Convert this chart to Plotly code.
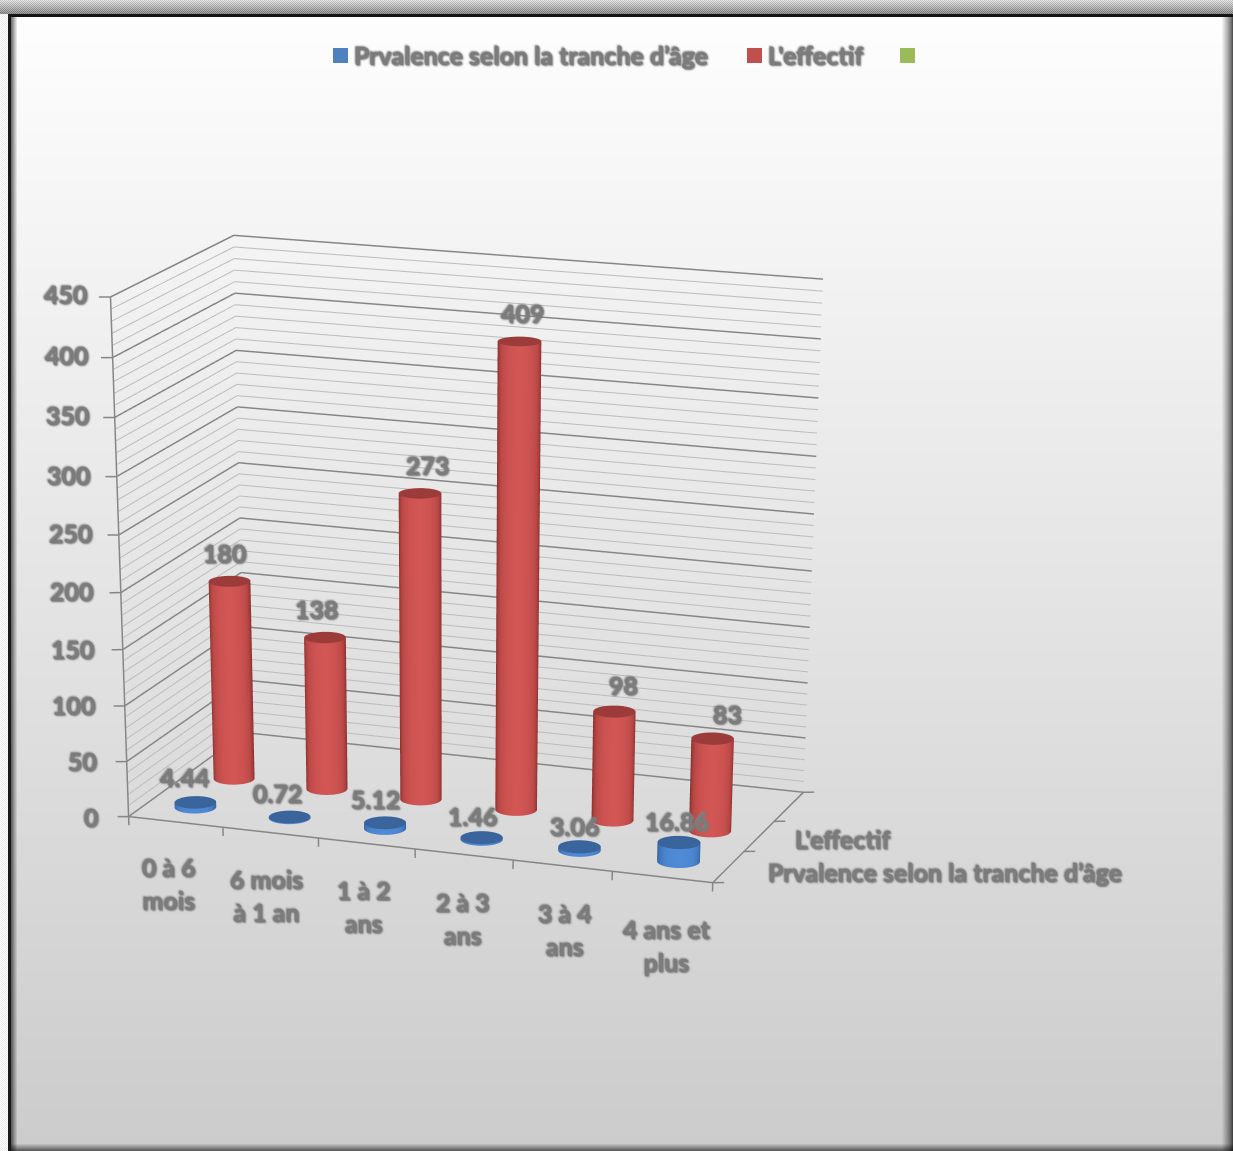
import base64, struct, zlib
import numpy as np
import plotly.graph_objects as go

categories = ["0 à 6<br>mois", "6 mois<br>à 1 an", "1 à 2<br>ans", "2 à 3<br>ans", "3 à 4<br>ans", "4 ans et<br>plus"]
series_names = ["Prvalence selon la tranche d’âge", "L'effectif"]
prevalence = [4.44, 0.72, 5.12, 1.46, 3.06, 16.86]
effectif = [180, 138, 273, 409, 98, 83]
z_ticks = list(range(0, 451, 50))
z_minor = list(range(0, 451, 10))
n_series = 3  # the third series is empty and only has a legend key

# Label nudges in pixels
prevalence_dx = [-11, -12, -10, -9, -5, -2]
prevalence_dy = [25, 24, 24, 22, 21, 21]
effectif_dx = [-5, -8, 8, 3, 9, 15]
effectif_dy = [28, 29, 28, 28, 27, 25]
category_dx = [-7, -4, -3, -1, 2, 5]
category_dy = [-62, -63, -63, -64, -64, -69]

# Page and camera set-up
PAGE_W, PAGE_H = 1233, 1151
FIG_H = 4000
SCENE_W = 900
CAM_EYE = (2.6511, -7.3737, 1.9960)
CAM_CENTER = (0.2430, -0.7565, -2.2304)
ASPECT = (1.0, 0.5048, 0.8182)
X_RANGE = (-1, 7)
Y_RANGE = (-1, 4)
Z_RANGE = (-50, 500)


def png_uri(rgb):
    h, w = rgb.shape[:2]
    raw = b"".join(b"\x00" + rgb[i].tobytes() for i in range(h))

    def chunk(tag, body):
        return struct.pack(">I", len(body)) + tag + body + struct.pack(">I", zlib.crc32(tag + body) & 0xffffffff)

    png = (b"\x89PNG\r\n\x1a\n" + chunk(b"IHDR", struct.pack(">IIBBBBB", w, h, 8, 2, 0, 0, 0))
           + chunk(b"IDAT", zlib.compress(raw)) + chunk(b"IEND", b""))
    return "data:image/png;base64," + base64.b64encode(png).decode()


def panel_background():
    """Grey gradient panel with a bevelled edge and a dark outline."""
    yy, xx = np.mgrid[0:PAGE_H, 0:PAGE_W].astype(float)
    g = 254 - 50 * np.clip((yy - 20) / (PAGE_H - 20), 0, 1)
    left = np.clip((xx - 11) / 6, 0, 1)
    g = g * (0.45 + 0.55 * left)
    right = np.clip((PAGE_W - 1 - xx) / 11, 0, 1)
    g = g * (0.33 + 0.67 * right ** 0.8)
    bottom = np.clip((PAGE_H - 1 - yy) / 7, 0, 1)
    g = g * (0.45 + 0.55 * bottom)
    checker = ((xx.astype(int) + yy.astype(int)) % 2) * 2 - 1
    top = 215 - 6 * yy + 22 * checker
    g = np.where(yy < 14, top, g)
    outer = 244 + 10 * checker
    g = np.where((xx < 8) & (yy >= 14), outer, g)
    g = np.where((yy >= 14) & (yy < 17) & (xx >= 8), 20, g)
    g = np.where((xx >= 8) & (xx < 11) & (yy >= 14), 25, g)
    g = np.clip(g, 0, 255).astype(np.uint8)
    return np.dstack([g, g, g])


fig = go.Figure()


def add_segments(segments, color, width):
    xs, ys, zs = [], [], []
    for a, b in segments:
        xs += [a[0], b[0], None]
        ys += [a[1], b[1], None]
        zs += [a[2], b[2], None]
    fig.add_trace(go.Scatter3d(x=xs, y=ys, z=zs, mode="lines", line=dict(color=color, width=width),
                               showlegend=False, hoverinfo="skip"))


n_cat = len(categories)
minor, major = [], []
for v in z_minor:
    walls = [((0, 0, v), (0, n_series, v)), ((0, n_series, v), (n_cat, n_series, v))]
    (major if v in z_ticks else minor).extend(walls)
add_segments(minor, "#bcbcbc", 2)
add_segments(major, "#868686", 3)

axis_lines = [((0, 0, 0), (0, 0, z_ticks[-1])), ((0, 0, 0), (n_cat, 0, 0)), ((n_cat, 0, 0), (n_cat, n_series, 0))]
axis_lines += [((0, 0, v), (-0.1, -0.04, v)) for v in z_ticks]
axis_lines += [((i, 0, 0), (i, 0, -8)) for i in range(n_cat + 1)]
axis_lines += [((n_cat, j, 0), (n_cat + 0.1, j + 0.04, 0)) for j in range(n_series + 1)]
add_segments(axis_lines, "#868686", 3)

# Cylinders are circular in scene units, so the depth radius follows the aspect ratio
RX = 0.205
RY = RX * (ASPECT[0] / n_cat) / (ASPECT[1] / n_series)
theta = np.linspace(0, 2 * np.pi, 97)
view_dir = np.arctan2(CAM_EYE[1] - CAM_CENTER[1], CAM_EYE[0] - CAM_CENTER[0])
FLAT = dict(ambient=1, diffuse=0, specular=0, roughness=1, fresnel=0)


def add_cylinder(cat, ser, value, side_scale, cap_color):
    cx, cy = cat + 0.5, ser + 0.5
    ring_x = cx + RX * np.cos(theta)
    ring_y = cy + RY * np.sin(theta)
    shade = np.clip(np.cos(theta - view_dir), 0, 1)
    fig.add_trace(go.Surface(
        x=np.array([ring_x, ring_x]), y=np.array([ring_y, ring_y]),
        z=np.array([np.zeros_like(theta), np.full_like(theta, value)]),
        surfacecolor=np.array([shade, shade]), cmin=0, cmax=1, colorscale=side_scale,
        showscale=False, lighting=FLAT, hoverinfo="skip"))
    radial = np.array([[0.0], [1.0]])
    cap_x = cx + RX * radial * np.cos(theta)
    cap_y = cy + RY * radial * np.sin(theta)
    fig.add_trace(go.Surface(
        x=cap_x, y=cap_y, z=np.full_like(cap_x, value), surfacecolor=np.zeros_like(cap_x),
        cmin=0, cmax=1, colorscale=[[0, cap_color], [1, cap_color]],
        showscale=False, lighting=FLAT, hoverinfo="skip"))


RED_SIDE = [[0, "#7a2a29"], [0.3, "#9c3a38"], [0.6, "#bd4a48"], [1, "#d15654"]]
BLUE_SIDE = [[0, "#2f5d96"], [0.35, "#3d70b0"], [0.75, "#4a84cd"], [1, "#4f8ad6"]]
for i, v in enumerate(prevalence):
    add_cylinder(i, 0, v, BLUE_SIDE, "#3a649c")
for i, v in enumerate(effectif):
    add_cylinder(i, 1, v, RED_SIDE, "#9c3c3a")

TEXT = dict(family="Lato", size=25, color="#7c7c7c", weight="bold",
            shadow="0 0 2px #707070, 1px 1px 2px #808080, -1px -1px 2px #8c8c8c")
labels = []
for v in z_ticks:
    labels.append(dict(x=0, y=0, z=v, text=str(v), showarrow=False, xanchor="right",
                       xshift=-28 + 7 * v / z_ticks[-1], yshift=3 * v / z_ticks[-1], font=TEXT))
for i, c in enumerate(categories):
    labels.append(dict(x=i + 0.5, y=0, z=0, text=c, showarrow=False, xshift=category_dx[i], yshift=category_dy[i], font=TEXT))
for i, v in enumerate(prevalence):
    labels.append(dict(x=i + 0.5, y=0.5, z=v, text=str(v), showarrow=False, xshift=prevalence_dx[i], yshift=prevalence_dy[i], font=TEXT))
for i, v in enumerate(effectif):
    labels.append(dict(x=i + 0.5, y=1.5, z=v, text=str(v), showarrow=False, xshift=effectif_dx[i], yshift=effectif_dy[i], font=TEXT))
labels.append(dict(x=n_cat, y=1.5, z=0, text=series_names[1], showarrow=False, xanchor="left", xshift=34, yshift=-3, font=TEXT))
labels.append(dict(x=n_cat, y=0.5, z=0, text=series_names[0], showarrow=False, xanchor="left", xshift=37, yshift=-5, font=TEXT))


def px(x):
    return x / PAGE_W


def py(y):
    return 1 - y / FIG_H


# Legend keys and their captions
keys = [(333, "#4f81bd", series_names[0], 352), (747, "#c0504d", series_names[1], 766), (900, "#9bbb59", "", None)]
shapes, notes = [], []
for left, color, caption, text_x in keys:
    shapes.append(dict(type="rect", xref="paper", yref="paper", x0=px(left), x1=px(left + 15),
                       y0=py(63), y1=py(48), fillcolor=color, line=dict(width=0), layer="below"))
    if caption:
        notes.append(dict(xref="paper", yref="paper", x=px(text_x), y=py(55), text=caption, showarrow=False,
                          xanchor="left", yanchor="middle", font=TEXT))

fig.update_layout(
    width=PAGE_W, height=FIG_H, autosize=False, margin=dict(l=0, r=0, t=0, b=0),
    paper_bgcolor="rgba(0,0,0,0)", showlegend=False, shapes=shapes, annotations=notes,
    images=[dict(source=png_uri(panel_background()), xref="paper", yref="paper", x=0, y=1, sizex=1,
                 sizey=PAGE_H / FIG_H, xanchor="left", yanchor="top", sizing="stretch", layer="below")],
    scene=dict(
        domain=dict(x=[0, SCENE_W / PAGE_W], y=[0, 1]), bgcolor="rgba(0,0,0,0)", aspectmode="manual",
        aspectratio=dict(x=ASPECT[0] * (X_RANGE[1] - X_RANGE[0]) / n_cat,
                         y=ASPECT[1] * (Y_RANGE[1] - Y_RANGE[0]) / n_series,
                         z=ASPECT[2] * (Z_RANGE[1] - Z_RANGE[0]) / z_ticks[-1]),
        camera=dict(eye=dict(x=CAM_EYE[0], y=CAM_EYE[1], z=CAM_EYE[2]),
                    center=dict(x=CAM_CENTER[0], y=CAM_CENTER[1], z=CAM_CENTER[2]),
                    up=dict(x=0, y=0, z=1), projection=dict(type="perspective")),
        xaxis=dict(range=list(X_RANGE), visible=False),
        yaxis=dict(range=list(Y_RANGE), visible=False),
        zaxis=dict(range=list(Z_RANGE), visible=False),
        annotations=labels))
fig.write_html("out.html")
